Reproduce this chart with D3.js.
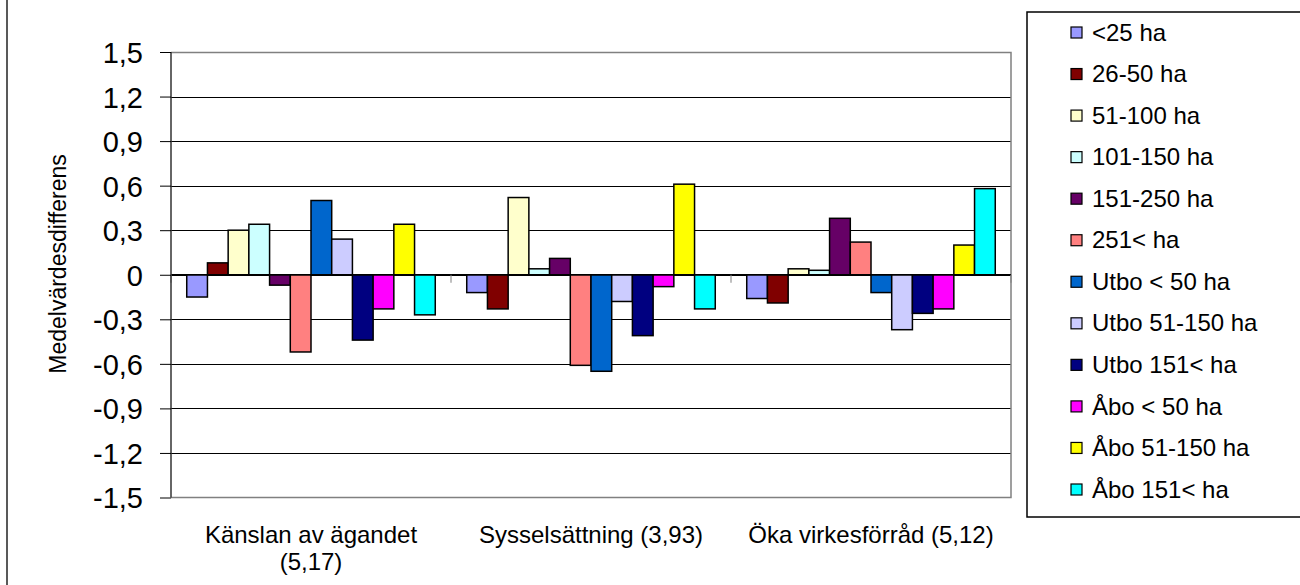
<!DOCTYPE html>
<html><head><meta charset="utf-8">
<script src="https://cdn.jsdelivr.net/npm/d3@7"></script>
<style>
body{margin:0;background:#fff;}
svg{display:block;font-family:"Liberation Sans",Arial,sans-serif;}
</style></head>
<body>
<svg id="c" width="1300" height="585"></svg>
<script>
const categories = ["Känslan av ägandet (5,17)", "Sysselsättning (3,93)", "Öka virkesförråd (5,12)"];
const categoryLines = [["Känslan av ägandet", "(5,17)"], ["Sysselsättning (3,93)"], ["Öka virkesförråd (5,12)"]];
const seriesNames = ["<25 ha", "26-50 ha", "51-100 ha", "101-150 ha", "151-250 ha", "251< ha",
  "Utbo < 50 ha", "Utbo 51-150 ha", "Utbo 151< ha", "Åbo < 50 ha", "Åbo 51-150 ha", "Åbo 151< ha"];
const seriesColors = ["#9999FF", "#800000", "#FFFFCC", "#CCFFFF", "#660066", "#FF8080",
  "#0066CC", "#CCCCFF", "#000080", "#FF00FF", "#FFFF00", "#00FFFF"];
// values per series: [Känslan, Sysselsättning, Öka virkesförråd]
const v_lt25 = [-0.15, -0.12, -0.16];
const v_26_50 = [0.08, -0.23, -0.19];
const v_51_100 = [0.30, 0.52, 0.04];
const v_101_150 = [0.34, 0.04, 0.03];
const v_151_250 = [-0.07, 0.11, 0.38];
const v_251 = [-0.52, -0.61, 0.22];
const v_utbo50 = [0.50, -0.65, -0.12];
const v_utbo51_150 = [0.24, -0.18, -0.37];
const v_utbo151 = [-0.44, -0.41, -0.26];
const v_abo50 = [-0.23, -0.08, -0.23];
const v_abo51_150 = [0.34, 0.61, 0.20];
const v_abo151 = [-0.27, -0.23, 0.58];
const seriesValues = [v_lt25, v_26_50, v_51_100, v_101_150, v_151_250, v_251,
  v_utbo50, v_utbo51_150, v_utbo151, v_abo50, v_abo51_150, v_abo151];
const tickValues = [1.5, 1.2, 0.9, 0.6, 0.3, 0, -0.3, -0.6, -0.9, -1.2, -1.5];
const tickLabels = ["1,5", "1,2", "0,9", "0,6", "0,3", "0", "-0,3", "-0,6", "-0,9", "-1,2", "-1,5"];
const yTitle = "Medelvärdesdifferens";

const svg = d3.select("#c");
const L = 171, R = 1011, T = 52, B = 497.5;

// outer chart border (left edge visible)
svg.append("line").attr("x1", 7).attr("x2", 7).attr("y1", -2).attr("y2", 590)
  .attr("stroke", "#222").attr("stroke-width", 1.5);

const y = d3.scaleLinear().domain([-1.5, 1.5]).range([B, T]);
const x0 = d3.scaleBand().domain(categories).range([L, R]).padding(0);
const x1 = d3.scaleBand().domain(seriesNames).range([0, x0.bandwidth()]).paddingInner(0).paddingOuter(0.76);

// gridlines
svg.append("g").selectAll("line").data(tickValues.filter(v => v !== 1.5 && v !== -1.5)).join("line")
  .attr("x1", L).attr("x2", R).attr("y1", d => Math.round(y(d)) + 0.5).attr("y2", d => Math.round(y(d)) + 0.5)
  .attr("stroke", "#000").attr("stroke-width", 1);

// plot border (gray)
svg.append("path")
  .attr("d", `M${L},${T + 0.5}H${R}V${B}H${L}`)
  .attr("fill", "none").attr("stroke", "#808080").attr("stroke-width", 1.5);

// bars
const groups = svg.append("g").selectAll("g").data(categories).join("g")
  .attr("transform", d => `translate(${x0(d)},0)`);
groups.selectAll("rect").data((d, ci) => seriesNames.map((s, si) => ({ s, si, v: seriesValues[si][ci] })))
  .join("rect")
  .attr("x", d => x1(d.s))
  .attr("width", x1.bandwidth())
  .attr("y", d => y(Math.max(0, d.v)))
  .attr("height", d => Math.abs(y(d.v) - y(0)))
  .attr("fill", d => seriesColors[d.si])
  .attr("stroke", "#000").attr("stroke-width", 1.5);

// zero axis line
svg.append("line").attr("x1", L).attr("x2", R).attr("y1", y(0)).attr("y2", y(0))
  .attr("stroke", "#000").attr("stroke-width", 1.5);
// category ticks
svg.append("g").selectAll("line").data([L, ...categories.slice(1).map(c => x0(c)), R]).join("line")
  .attr("x1", d => d).attr("x2", d => d).attr("y1", y(0)).attr("y2", y(0) + 8)
  .attr("stroke", "#808080").attr("stroke-width", 1);

// y axis
const yAxis = d3.axisLeft(y).tickValues(tickValues).tickSize(11).tickPadding(17)
  .tickFormat((d, i) => tickLabels[i]);
const ga = svg.append("g").attr("transform", `translate(${L},0)`).call(yAxis);
ga.select(".domain").attr("stroke", "#333").attr("stroke-width", 1.5).attr("d", `M0,${T}V${B}`);
ga.selectAll(".tick line").attr("stroke", "#000");
ga.selectAll(".tick text").attr("font-size", 29).attr("fill", "#000")
  .attr("font-family", "Liberation Sans, Arial, sans-serif").attr("dy", "0.36em");

// y title
svg.append("text").attr("transform", `translate(66,264) rotate(-90)`)
  .attr("text-anchor", "middle").attr("font-size", 23).attr("fill", "#000").text(yTitle);

// category labels
categories.forEach((c, i) => {
  const t = svg.append("text").attr("text-anchor", "middle").attr("font-size", 24).attr("fill", "#000");
  categoryLines[i].forEach((ln, j) => {
    t.append("tspan").attr("x", x0(c) + x0.bandwidth() / 2).attr("y", 543 + j * 27).text(ln);
  });
});

// legend
const lg = svg.append("g");
lg.append("rect").attr("x", 1027).attr("y", 12).attr("width", 300).attr("height", 505)
  .attr("fill", "#fff").attr("stroke", "#000").attr("stroke-width", 1.5);
const ly = d3.scalePoint().domain(seriesNames).range([32, 489]);
const items = lg.selectAll("g.it").data(seriesNames).join("g").attr("class", "it")
  .attr("transform", d => `translate(0,${ly(d)})`);
items.append("rect").attr("x", 1071).attr("y", -5).attr("width", 11).attr("height", 11)
  .attr("fill", (d, i) => seriesColors[i]).attr("stroke", "#000").attr("stroke-width", 1.2);
items.append("text").attr("x", 1092).attr("y", 0).attr("dy", "0.36em")
  .attr("font-size", 24).attr("fill", "#000").text(d => d);
</script>
</body></html>
